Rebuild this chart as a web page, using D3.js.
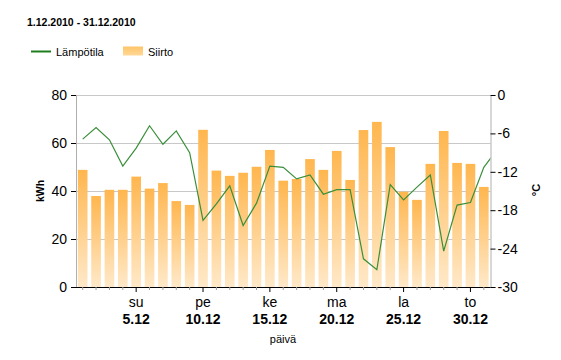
<!DOCTYPE html>
<html><head><meta charset="utf-8">
<script src="https://cdn.jsdelivr.net/npm/d3@7"></script>
<style>
html,body{margin:0;padding:0;background:#fff;}
text{font-family:"Liberation Sans",Arial,sans-serif;fill:#000;}
</style></head>
<body><svg id="c" width="561" height="360"></svg>
<script>
// ---- data ----
const title = "1.12.2010 - 31.12.2010";
const days = d3.range(1, 32);
const kwh = [48.8,37.9,40.5,40.5,46.0,41.0,43.3,35.8,34.2,65.5,48.5,46.3,47.6,50.1,57.1,
             44.3,45.0,53.3,48.8,56.7,44.6,65.4,68.8,58.3,39.7,36.3,51.3,65.0,51.7,51.3,41.7];
// temperatures for days 1..31 plus the following day (1.1.) which is clipped at the plot edge
const temps = [-6.9,-5.1,-7.0,-11.1,-8.3,-4.8,-7.7,-5.6,-9.0,-19.6,-17.0,-14.2,-20.4,-16.9,-11.1,
               -11.3,-13.1,-12.5,-15.5,-14.8,-14.8,-25.6,-27.3,-14.0,-16.4,-14.4,-12.5,-24.4,-17.2,-16.8,-11.3,-8.5];
const kwhTicks = [0,20,40,60,80];
const tempTicks = [0,-6,-12,-18,-24,-30];
const majorDays = [5,10,15,20,25,30];
const weekdays = ["su","pe","ke","ma","la","to"];
const dateLabels = ["5.12","10.12","15.12","20.12","25.12","30.12"];
const legendNames = ["Lämpötila","Siirto"];

// ---- layout ----
const L = 76, R = 490.5, T = 95, B = 287;
const svg = d3.select("#c");
const defs = svg.append("defs");
const g = defs.append("linearGradient").attr("id","barG").attr("x1",0).attr("y1",0).attr("x2",0).attr("y2",1);
g.append("stop").attr("offset","0%").attr("stop-color","#ffb64e");
g.append("stop").attr("offset","100%").attr("stop-color","#ffe9c9");
const lg = defs.append("linearGradient").attr("id","legG").attr("x1",0).attr("y1",0).attr("x2",0).attr("y2",1);
lg.append("stop").attr("offset","0%").attr("stop-color","#ffc469");
lg.append("stop").attr("offset","100%").attr("stop-color","#ffd996");
defs.append("clipPath").attr("id","plotClip").append("rect")
  .attr("x",L).attr("y",T-2).attr("width",R-L).attr("height",B-T+4);

const x = d3.scaleBand().domain(days).range([L,R]).paddingInner(0.28).paddingOuter(0.14);
const xc = d3.scaleLinear().domain([1,31]).range([x(1)+x.bandwidth()/2, x(31)+x.bandwidth()/2]);
const y = d3.scaleLinear().domain([0,80]).range([B,T]);
const yt = d3.scaleLinear().domain([-30,0]).range([B,T]);

// title
svg.append("text").attr("x",27).attr("y",26).attr("font-size","10.5px").attr("font-weight","bold").text(title);

// legend
svg.append("line").attr("x1",31).attr("x2",51).attr("y1",51.5).attr("y2",51.5).attr("stroke","#1e7d1e").attr("stroke-width",2);
svg.append("text").attr("x",56).attr("y",56).attr("font-size","11px").text(legendNames[0]);
svg.append("rect").attr("x",123).attr("y",46.5).attr("width",20).attr("height",9).attr("fill","url(#legG)");
svg.append("text").attr("x",148).attr("y",56).attr("font-size","11px").text(legendNames[1]);

// gridlines
svg.append("g").selectAll("line").data(kwhTicks.filter(d=>d>0)).join("line")
  .attr("x1",L).attr("x2",R).attr("y1",d=>Math.round(y(d))+0.5).attr("y2",d=>Math.round(y(d))+0.5)
  .attr("stroke","#c8c8c8").attr("stroke-width",1);

// bars
svg.append("g").selectAll("rect").data(days).join("rect")
  .attr("x",d=>x(d)).attr("width",x.bandwidth())
  .attr("y",(d,i)=>y(kwh[i])).attr("height",(d,i)=>B-y(kwh[i]))
  .attr("fill","url(#barG)");

// temperature line
const lineGen = d3.line().x((d,i)=>xc(i+1)).y(d=>yt(d));
svg.append("path").datum(temps).attr("d",lineGen).attr("clip-path","url(#plotClip)")
  .attr("fill","none").attr("stroke","#3a8f3a").attr("stroke-width",1.2);

// left axis
const la = svg.append("g").attr("transform",`translate(${L},0)`)
  .call(d3.axisLeft(y).tickValues(kwhTicks).tickSize(5).tickPadding(4));
la.select(".domain").attr("stroke","#b0b0b0");
la.selectAll(".tick line").attr("stroke","#000");
la.selectAll(".tick text").attr("font-size","14px").attr("font-family","Liberation Sans, Arial, sans-serif");

// right axis
const ra = svg.append("g").attr("transform",`translate(${R},0)`)
  .call(d3.axisRight(yt).tickValues(tempTicks).tickSize(5).tickPadding(2).tickFormat(d=>d===0?"0":String(d).replace("−","-")));
ra.select(".domain").attr("stroke","#b0b0b0");
ra.selectAll(".tick line").attr("stroke","#000");
ra.selectAll(".tick text").attr("font-size","14px").attr("font-family","Liberation Sans, Arial, sans-serif");

// bottom axis
svg.append("line").attr("x1",L-5).attr("x2",R).attr("y1",B+0.5).attr("y2",B+0.5).attr("stroke","#000");
svg.append("g").selectAll("line").data(days).join("line")
  .attr("x1",d=>xc(d)).attr("x2",d=>xc(d)).attr("y1",B)
  .attr("y2",d=>majorDays.includes(d)?B+5:B+3)
  .attr("stroke",d=>majorDays.includes(d)?"#000":"#999");
svg.append("g").selectAll("text").data(majorDays).join("text")
  .attr("x",d=>xc(d)).attr("y",307).attr("text-anchor","middle").attr("font-size","14px")
  .text((d,i)=>weekdays[i]);
svg.append("g").selectAll("text").data(majorDays).join("text")
  .attr("x",d=>xc(d)).attr("y",323.5).attr("text-anchor","middle").attr("font-size","14px").attr("font-weight","bold")
  .text((d,i)=>dateLabels[i]);

// axis titles
svg.append("text").attr("x",283).attr("y",343).attr("text-anchor","middle").attr("font-size","11px").text("päivä");
svg.append("text").attr("transform","translate(44,191) rotate(-90)").attr("text-anchor","middle")
  .attr("font-size","10.5px").attr("font-weight","bold").text("kWh");
svg.append("text").attr("transform","translate(540,190) rotate(-90)").attr("text-anchor","middle")
  .attr("font-size","11px").attr("font-weight","bold").text("°C");
</script></body></html>
